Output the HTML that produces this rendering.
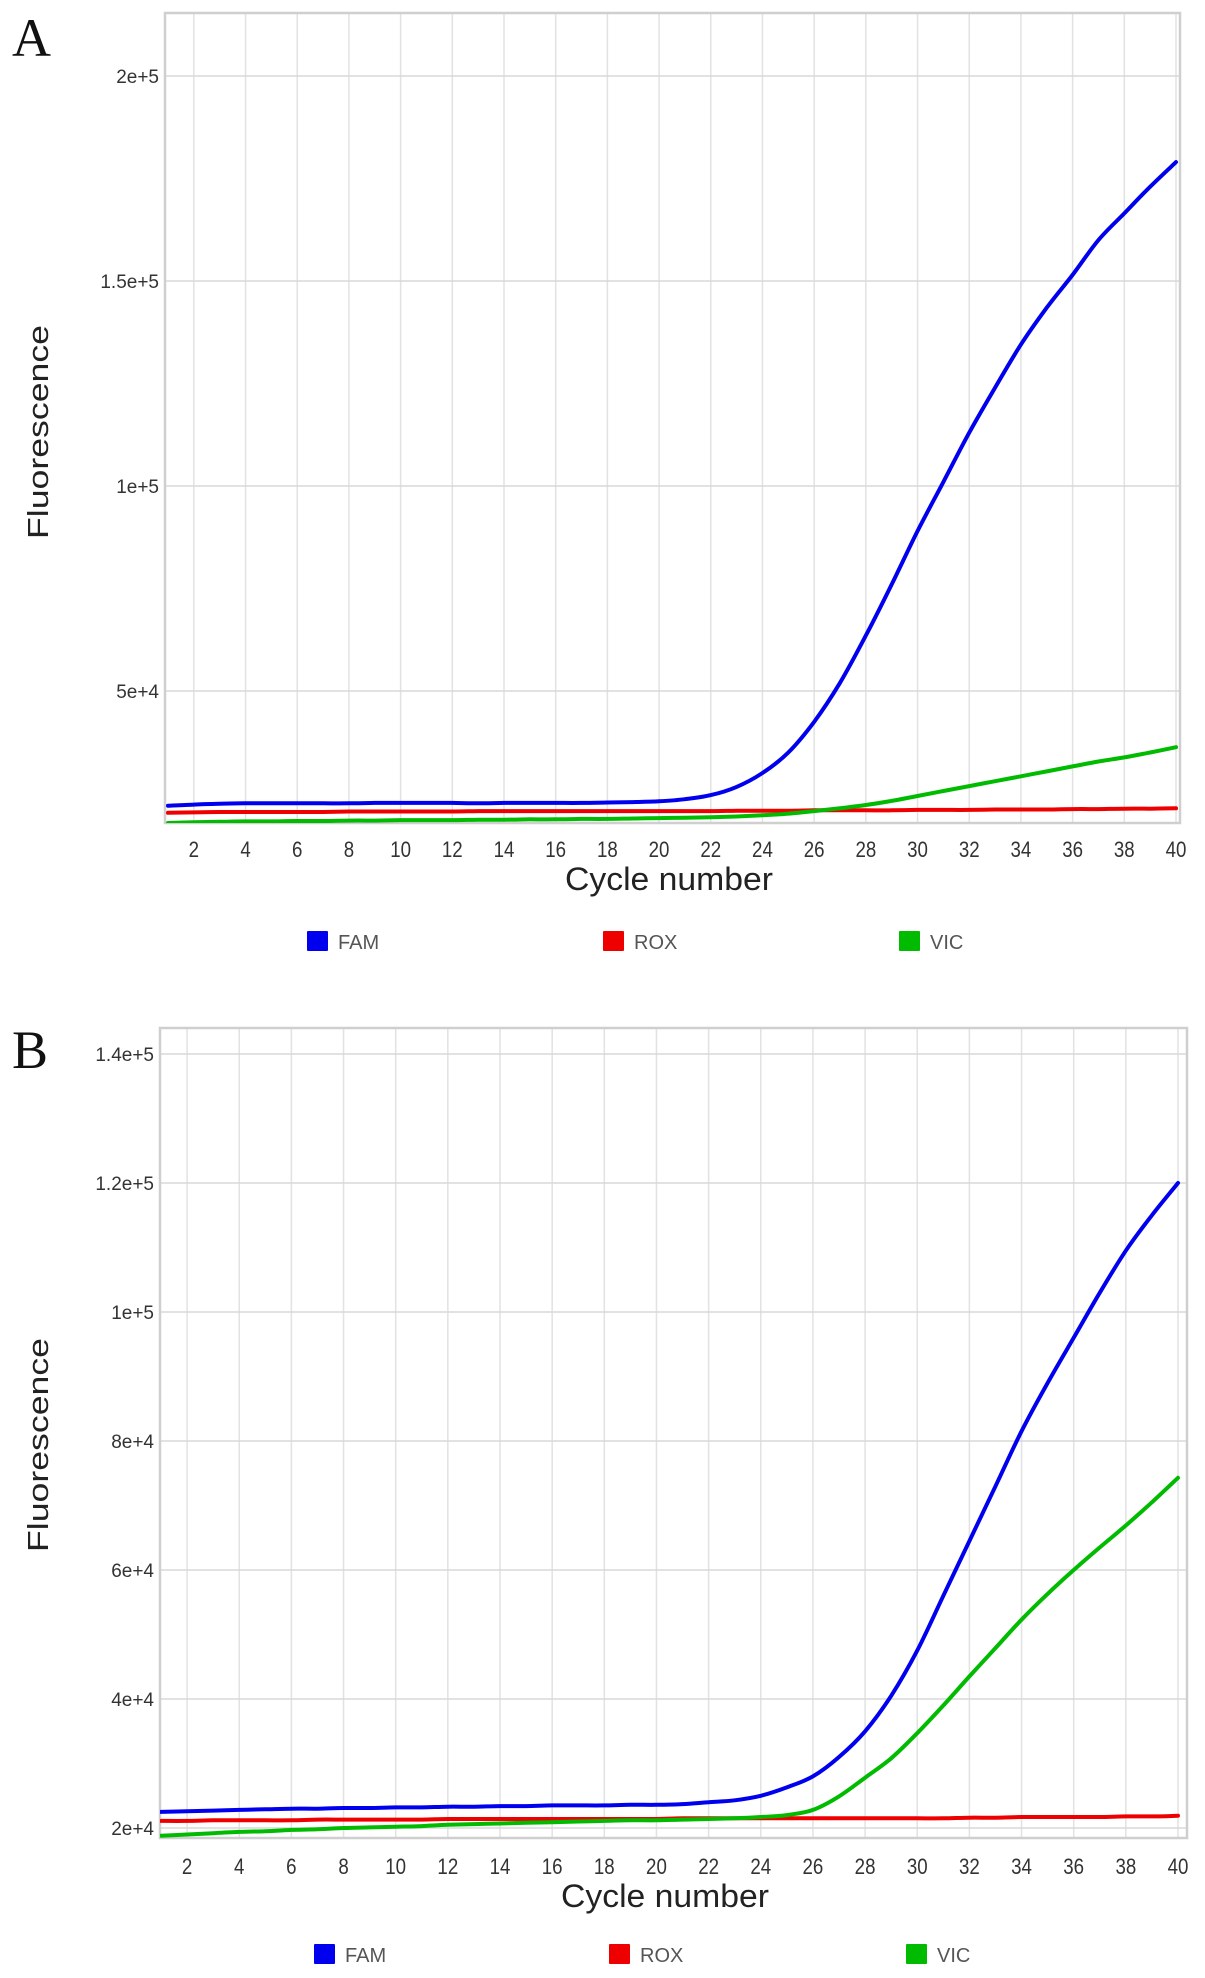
<!DOCTYPE html>
<html><head><meta charset="utf-8">
<style>
html,body{margin:0;padding:0;background:#fff;}
body{width:1205px;height:1978px;position:relative;overflow:hidden;font-family:"Liberation Sans",sans-serif;}
svg{position:absolute;left:0;top:0;}
</style></head>
<body>
<svg id="fig" width="1205" height="1978" viewBox="0 0 1205 1978" xmlns="http://www.w3.org/2000/svg"></svg>
<script>
// ---- Shared data ----
const cycles = [1,2,3,4,5,6,7,8,9,10,11,12,13,14,15,16,17,18,19,20,21,22,23,24,25,26,27,28,29,30,31,32,33,34,35,36,37,38,39,40];
const xTickLabels = [2,4,6,8,10,12,14,16,18,20,22,24,26,28,30,32,34,36,38,40];
const seriesNames = ["FAM","ROX","VIC"];

// ---- Panel A data ----
const aYTicks = [50000,100000,150000,200000];
const aYTickLabels = ["5e+4","1e+5","1.5e+5","2e+5"];
const aFAM = [22000,22300,22500,22600,22600,22600,22600,22600,22700,22700,22700,22700,22600,22700,22700,22700,22700,22800,22900,23100,23600,24600,26600,30000,35000,42500,52000,63500,76000,89000,101000,113000,124000,134500,143500,151500,160000,166500,173000,179000];
const aROX = [20300,20400,20500,20500,20500,20500,20500,20600,20600,20600,20600,20600,20700,20700,20700,20700,20700,20700,20700,20700,20700,20700,20800,20800,20800,20900,20900,20900,20900,21000,21000,21000,21100,21100,21100,21200,21200,21300,21300,21400];
const aVIC = [17800,18000,18100,18200,18200,18300,18300,18400,18400,18500,18500,18500,18600,18600,18700,18700,18800,18800,18900,19000,19100,19200,19400,19700,20100,20700,21400,22200,23200,24400,25600,26800,28000,29200,30400,31600,32800,33800,35000,36300];

// ---- Panel B data ----
const bYTicks = [20000,40000,60000,80000,100000,120000,140000];
const bYTickLabels = ["2e+4","4e+4","6e+4","8e+4","1e+5","1.2e+5","1.4e+5"];
const bFAM = [22500,22600,22700,22800,22900,23000,23000,23100,23100,23200,23200,23300,23300,23400,23400,23500,23500,23500,23600,23600,23700,24000,24300,25000,26300,28000,31000,35000,40500,47500,56000,64500,73000,81500,89000,96000,103000,109500,115000,120000];
const bROX = [21100,21100,21200,21200,21200,21200,21300,21300,21300,21300,21300,21400,21400,21400,21400,21400,21400,21400,21400,21400,21500,21500,21500,21500,21500,21500,21500,21500,21500,21500,21500,21600,21600,21700,21700,21700,21700,21800,21800,21900];
const bVIC = [18800,19000,19200,19400,19500,19700,19800,20000,20100,20200,20300,20500,20600,20700,20800,20900,21000,21100,21200,21200,21300,21400,21500,21700,22000,22800,24900,27800,30800,34700,39000,43500,47900,52300,56300,60000,63500,66900,70500,74300];

const colors = {FAM:"#0000ee", ROX:"#ee0000", VIC:"#00bb00"};
const NS = "http://www.w3.org/2000/svg";
const fig = document.getElementById('fig');
function mk(tag, attrs, parent){ const e=document.createElementNS(NS,tag); for(const k in attrs) e.setAttribute(k,attrs[k]); (parent||fig).appendChild(e); return e; }

function smoothPath(pts){
  let d = 'M'+pts[0][0].toFixed(1)+','+pts[0][1].toFixed(1);
  for(let i=0;i<pts.length-1;i++){
    const p0=pts[Math.max(0,i-1)],p1=pts[i],p2=pts[i+1],p3=pts[Math.min(pts.length-1,i+2)];
    const c1x=p1[0]+(p2[0]-p0[0])/6, c1y=p1[1]+(p2[1]-p0[1])/6;
    const c2x=p2[0]-(p3[0]-p1[0])/6, c2y=p2[1]-(p3[1]-p1[1])/6;
    d+=' C'+c1x.toFixed(1)+','+c1y.toFixed(1)+' '+c2x.toFixed(1)+','+c2y.toFixed(1)+' '+p2[0].toFixed(1)+','+p2[1].toFixed(1);
  }
  return d;
}

function drawPanel(cfg){
  const g = mk('g',{});
  
  
  const L=cfg.left,R=cfg.right,T=cfg.top,B=cfg.bottom;
  const xs = c => cfg.x1 + (c-1)*(cfg.x40-cfg.x1)/39;
  const ys = v => cfg.yA + (v-cfg.vA)*(cfg.yB-cfg.yA)/(cfg.vB-cfg.vA);

  const letter = mk('text',{x:cfg.letterX,y:cfg.letterY,'font-family':'"Liberation Serif",serif','font-size':54,fill:'#111'},g);
  letter.textContent = cfg.id.toUpperCase();
  
  

  xTickLabels.forEach(t=>{
    const ln = mk('line',{x1:xs(t),x2:xs(t),y1:T,y2:B,stroke:'#e2e2e2','stroke-width':1.5},g);
    
    
    const tx = mk('text',{x:xs(t),y:cfg.xTickY,'text-anchor':'middle','font-size':22,fill:'#333',transform:'translate('+xs(t)+',0) scale(0.85,1) translate('+(-xs(t))+',0)'},g);
    tx.textContent = t;
    
    
  });
  cfg.yTicks.forEach((v,i)=>{
    const ln = mk('line',{x1:L,x2:R,y1:ys(v),y2:ys(v),stroke:'#d8d8d8','stroke-width':1.5},g);
    
    
    const tx = mk('text',{x:L-6,y:ys(v)+7,'text-anchor':'end','font-size':19,fill:'#333'},g);
    tx.textContent = cfg.yTickLabels[i];
    
    
  });
  const box = mk('rect',{x:L,y:T,width:R-L,height:B-T,fill:'none',stroke:'#cfcfcf','stroke-width':2.5},g);
  
  

  const clip = mk('clipPath',{id:'clip'+cfg.id},g);
  mk('rect',{x:L,y:T,width:R-L,height:B-T},clip);
  ["ROX","VIC","FAM"].forEach(n=>{
    const vals = cfg.series[n];
    const pts = vals.map((v,i)=>[xs(cycles[i]), ys(v)]);
    const p = mk('path',{d:smoothPath(pts),fill:'none',stroke:colors[n],'stroke-width':4,'stroke-linejoin':'round','stroke-linecap':'round','clip-path':'url(#clip'+cfg.id+')'},g);
    
    
  });

  const yl = mk('text',{x:0,y:0,transform:'translate('+cfg.yLabelX+','+cfg.yLabelY+') rotate(-90)','text-anchor':'middle','font-size':29,fill:'#222',textLength:214,lengthAdjust:'spacingAndGlyphs'},g);
  yl.textContent = 'Fluorescence';
  
  
  const xl = mk('text',{x:cfg.xLabelX,y:cfg.xLabelY,'text-anchor':'middle','font-size':32,fill:'#222',textLength:208,lengthAdjust:'spacingAndGlyphs'},g);
  xl.textContent = 'Cycle number';
  
  

  seriesNames.forEach((n,i)=>{
    const lg = mk('g',{},g);
    
    
    mk('rect',{x:cfg.legendX[i],y:cfg.legendY-10,width:21,height:20,fill:colors[n],rx:1},lg);
    const t = mk('text',{x:cfg.legendX[i]+31,y:cfg.legendY+8,'font-size':20,fill:'#555'},lg);
    t.textContent = n;
  });
}

drawPanel({id:'a',left:165,right:1180,top:13,bottom:823,x1:168,x40:1176,
  yA:486,vA:100000,yB:76,vB:200000,yTicks:aYTicks,yTickLabels:aYTickLabels,
  series:{FAM:aFAM,ROX:aROX,VIC:aVIC},letterX:12,letterY:56,xTickY:857,
  yLabelX:48,yLabelY:432,xLabelX:669,xLabelY:890,legendY:941,legendX:[307,603,899]});
drawPanel({id:'b',left:160,right:1187,top:1028,bottom:1838,x1:161,x40:1178,
  yA:1828,vA:20000,yB:1054,vB:140000,yTicks:bYTicks,yTickLabels:bYTickLabels,
  series:{FAM:bFAM,ROX:bROX,VIC:bVIC},letterX:12,letterY:1068,xTickY:1874,
  yLabelX:48,yLabelY:1445,xLabelX:665,xLabelY:1907,legendY:1954,legendX:[314,609,906]});
</script>
</body></html>
